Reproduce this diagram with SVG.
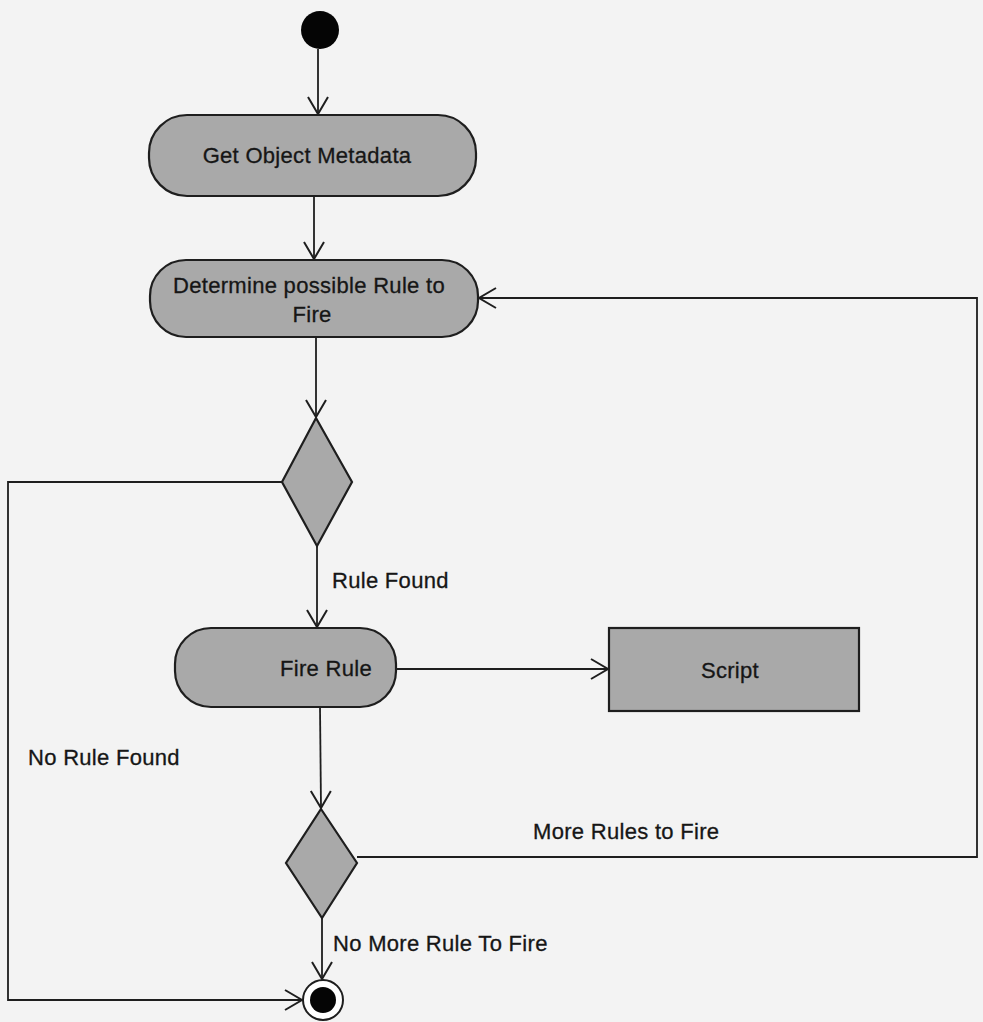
<svg xmlns="http://www.w3.org/2000/svg" width="983" height="1022" viewBox="0 0 983 1022">
  <style>
    .node { fill: #a9a9a9; stroke: #1e1e1e; stroke-width: 2.2; }
    .edge { fill: none; stroke: #1e1e1e; stroke-width: 1.8; }
    .lbl { font-family: "Liberation Sans", Arial, sans-serif; font-size: 22px; fill: #161616; stroke: #161616; stroke-width: 0.3; letter-spacing: 0.3px; }
    .mid { text-anchor: middle; }
  </style>
  <defs>
    <marker id="open" markerUnits="userSpaceOnUse" markerWidth="24" markerHeight="24" viewBox="-20 -12 24 24" refX="0" refY="0" orient="auto">
      <path d="M-17,-10 L0,0 L-17,10" fill="none" stroke="#1e1e1e" stroke-width="2"/>
    </marker>
  </defs>
  <rect x="0" y="0" width="983" height="1022" fill="#f3f3f3"/>

  <g id="connectors">
    <path class="edge" d="M318,49 L318,114" marker-end="url(#open)"/>
    <path class="edge" d="M314,196 L314,259" marker-end="url(#open)"/>
    <path class="edge" d="M316,337 L316,417" marker-end="url(#open)"/>
    <path class="edge" d="M317,546 L317,627" marker-end="url(#open)"/>
    <path class="edge" d="M396,669 L608,669" marker-end="url(#open)"/>
    <path class="edge" d="M320,707 L321,808" marker-end="url(#open)"/>
    <path class="edge" d="M322,918 L322,979" marker-end="url(#open)"/>
    <path class="edge" d="M282,482 L8,482 L8,1000 L302,1000" marker-end="url(#open)"/>
    <path class="edge" d="M357,857 L977,857 L977,298 L479,298" marker-end="url(#open)"/>
  </g>

  <g id="start">
    <circle cx="320" cy="30" r="19" fill="#050505"/>
  </g>

  <g id="get-metadata">
    <rect class="node" x="149" y="115" width="327" height="81" rx="38" ry="38"/>
    <text class="lbl mid" x="307" y="163">Get Object Metadata</text>
  </g>

  <g id="determine-rule">
    <rect class="node" x="150" y="260" width="328" height="77" rx="36" ry="36"/>
    <text class="lbl mid" x="309" y="293">Determine possible Rule to</text>
    <text class="lbl mid" x="312" y="322">Fire</text>
  </g>

  <g id="decision-found">
    <polygon class="node" points="316,418 352,482 317,546 282,482"/>
  </g>

  <g id="fire-rule">
    <rect class="node" x="175" y="628" width="221" height="79" rx="36" ry="36"/>
    <text class="lbl mid" x="326" y="676">Fire Rule</text>
  </g>

  <g id="script">
    <rect class="node" x="609" y="628" width="250" height="83"/>
    <text class="lbl mid" x="730" y="678">Script</text>
  </g>

  <g id="decision-more">
    <polygon class="node" points="321,809 357,863 322,918 286,863"/>
  </g>

  <g id="end">
    <circle cx="323" cy="1000" r="20" fill="#ffffff" stroke="#1e1e1e" stroke-width="2"/>
    <circle cx="323" cy="1000" r="13" fill="#050505"/>
  </g>

  <g id="labels">
    <text class="lbl" x="332" y="588">Rule Found</text>
    <text class="lbl" x="28" y="765">No Rule Found</text>
    <text class="lbl" x="533" y="839">More Rules to Fire</text>
    <text class="lbl" x="333" y="951">No More Rule To Fire</text>
  </g>
</svg>
